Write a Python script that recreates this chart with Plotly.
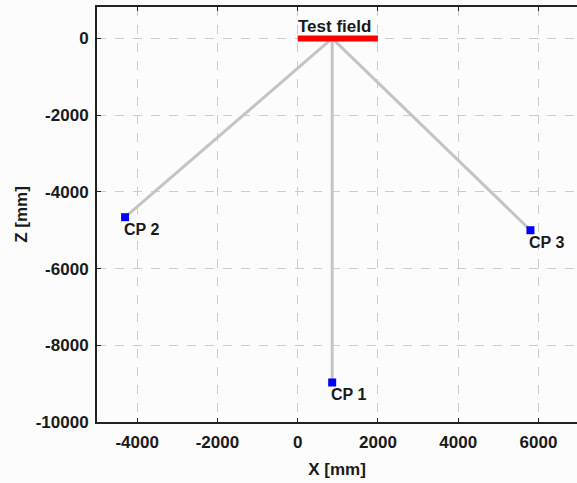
import plotly.graph_objects as go

# Data
apex = (860, 0)
cp_names = ["CP 1", "CP 2", "CP 3"]
cp_x = [860, -4300, 5800]
cp_z = [-8970, -4660, -5000]
field_x = [0, 2000]
field_z = [0, 0]
field_label = "Test field"
x_ticks = [-4000, -2000, 0, 2000, 4000, 6000]
x_ticktext = ["-4000", "-2000", "0", "2000", "4000", "6000"]
z_ticks = [0, -2000, -4000, -6000, -8000, -10000]
z_ticktext = ["0", "-2000", "-4000", "-6000", "-8000", "-10000"]

FONT = "Liberation Sans"
FS = 17
TXT = "#1a1a1a"

fig = go.Figure()

# gray lines from apex to each control point
lx, lz = [], []
for x, z in zip(cp_x, cp_z):
    lx += [apex[0], x, None]
    lz += [apex[1], z, None]
fig.add_trace(go.Scatter(x=lx, y=lz, mode="lines",
                         line=dict(color="#c4c4c4", width=3),
                         hoverinfo="skip", showlegend=False))

# test field red line
fig.add_trace(go.Scatter(x=field_x, y=field_z, mode="lines",
                         line=dict(color="#ff0000", width=6),
                         showlegend=False))

# control points
fig.add_trace(go.Scatter(x=cp_x, y=cp_z, mode="markers",
                         marker=dict(symbol="square", size=8, color="#0000ff"),
                         showlegend=False))

for name, x, z in zip(cp_names, cp_x, cp_z):
    fig.add_annotation(x=x, y=z, text=name, showarrow=False,
                       xanchor="left", yanchor="top", xshift=-3, yshift=-2,
                       font=dict(family=FONT, size=FS - 1, color=TXT, weight="bold"))

fig.add_annotation(x=field_x[0], y=field_z[0], text=field_label,
                   showarrow=False, xanchor="left", yanchor="bottom", xshift=-2, yshift=0,
                   font=dict(family=FONT, size=FS, color=TXT, weight="bold"))

axis_common = dict(
    showgrid=True, gridcolor="#cccccc", griddash="dash", gridwidth=1,
    zeroline=False, showline=True, linecolor="#222222", linewidth=2,
    ticks="inside", ticklen=4, tickcolor="#222222",
    tickfont=dict(family=FONT, size=FS, color=TXT, weight="bold"),
)

fig.update_layout(
    width=577, height=483,
    margin=dict(l=97, r=0, t=7, b=61),
    paper_bgcolor="#fcfcfc", plot_bgcolor="#fcfcfc",
    xaxis=dict(range=[-5000, 6960], tickvals=x_ticks, ticktext=x_ticktext, mirror="ticks",
               ticklabelstandoff=4,
               title=dict(text="X [mm]", standoff=12,
                          font=dict(family=FONT, size=FS, color=TXT, weight="bold")),
               **axis_common),
    yaxis=dict(range=[-10000, 820], tickvals=z_ticks, ticktext=z_ticktext, mirror=False,
               ticklabelstandoff=3,
               title=dict(text="Z [mm]", standoff=4,
                          font=dict(family=FONT, size=FS, color=TXT, weight="bold")),
               **axis_common),
)

fig.write_html("out.html")
